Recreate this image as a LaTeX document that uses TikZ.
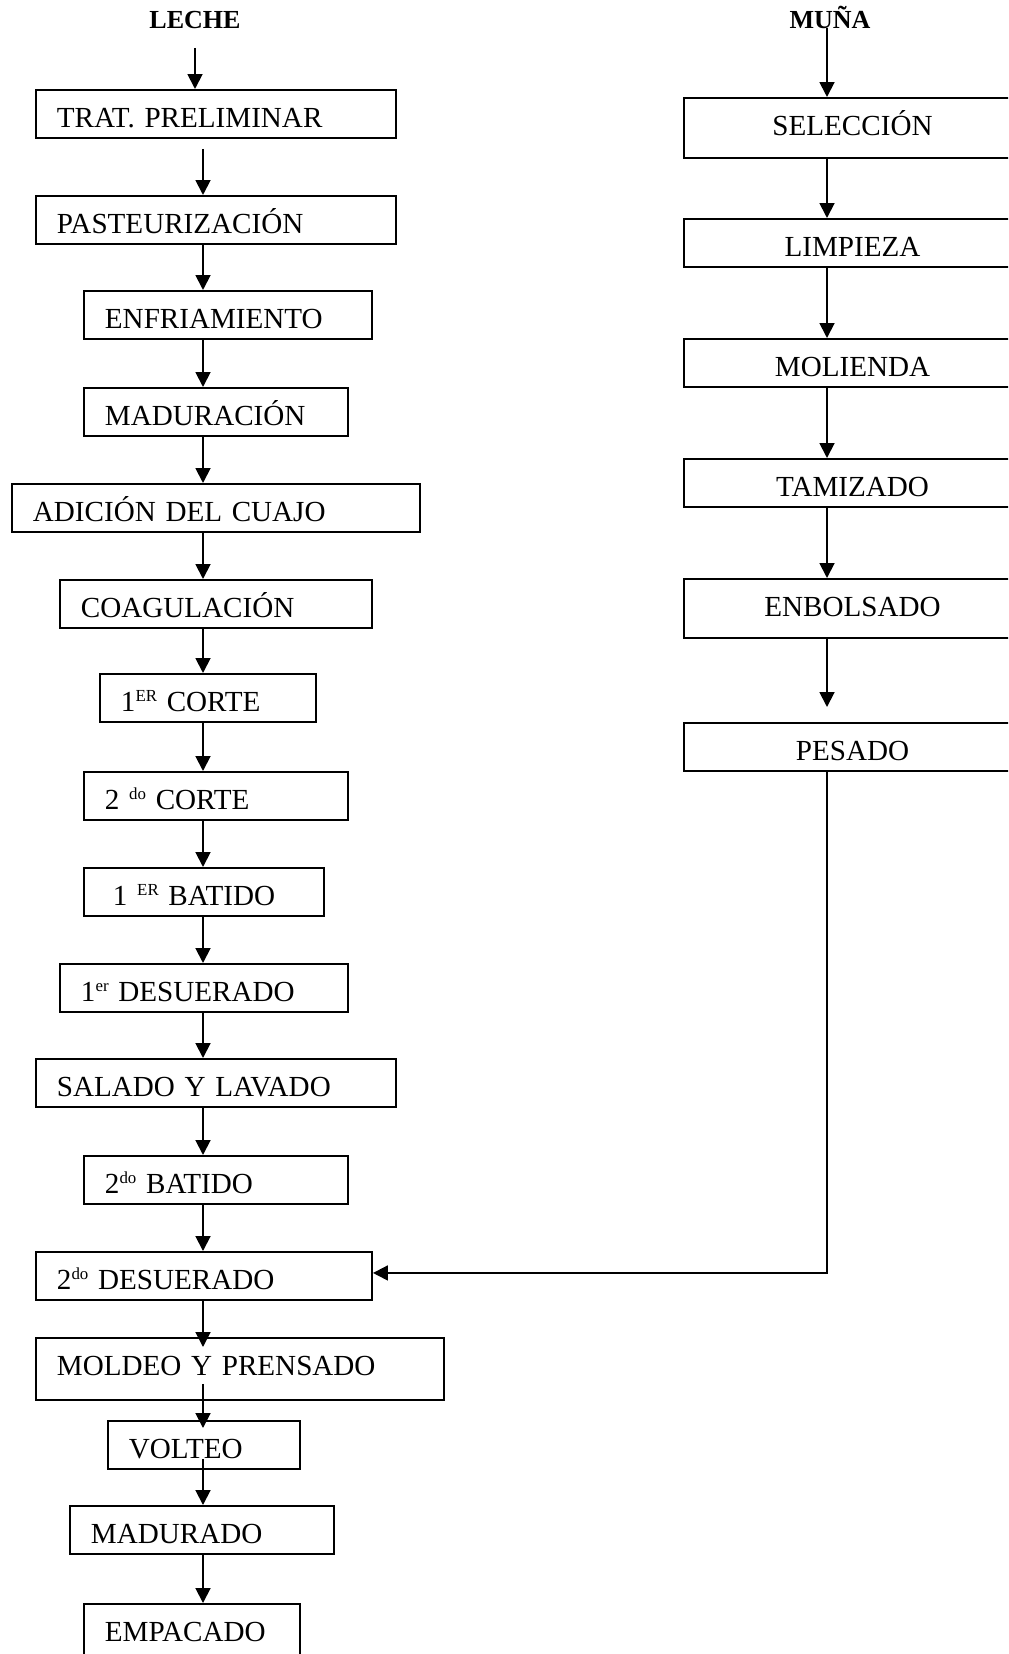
\documentclass[tikz,border=0pt]{standalone}
\usepackage{fontspec}
\setmainfont{Liberation Serif}
\usetikzlibrary{arrows.meta,positioning,calc}
\newcommand{\stepsup}[1]{\raisebox{0.25cm}{\fontsize{12}{14}\selectfont #1}}
\tikzset{
  stepbox/.style={draw=black,line width=1.35pt,anchor=north west,
    inner xsep=0.525cm,inner ysep=0pt,text height=0.95cm,text depth=0.25cm,
    align=left,font=\fontsize{20.7}{24}\selectfont},
  rawbox/.style={stepbox,align=center,text width=7.375cm},
  headtext/.style={anchor=base,inner sep=0pt,
    font=\fontsize{18.5}{22}\selectfont\bfseries},
  flowarrow/.style={-{Triangle[length=0.37cm,width=0.37cm]},line width=1.35pt},
}

\begin{document}
\begin{tikzpicture}[x=0.025cm,y=-0.025cm]
  \useasboundingbox (0,0) rectangle (1008,1654);
  \clip (0,0) rectangle (1008,1654);
  % titles
  \node[headtext] (leche) at (195,29) {LECHE};
  \node[headtext] (muna) at (830,29) {MUÑA};
  \coordinate (axis) at (203,0);
  \coordinate (raxis) at (827,0);
  % milk line
  \node[stepbox,text width=7.95cm] (trat) at (35,89) {TRAT. PRELIMINAR};
  \node[stepbox,text width=7.95cm] (past) at (35,195) {PASTEURIZACIÓN};
  \node[stepbox,text width=6.15cm] (enfr) at (83,290) {ENFRIAMIENTO};
  \node[stepbox,text width=5.55cm] (madur) at (83,387) {MADURACIÓN};
  \node[stepbox,text width=9.15cm] (cuajo) at (11,483) {ADICIÓN DEL CUAJO};
  \node[stepbox,text width=6.75cm] (coag) at (59,579) {COAGULACIÓN};
  \node[stepbox,text width=4.35cm] (corte1) at (99,673) {1\stepsup{ER }CORTE};
  \node[stepbox,text width=5.55cm] (corte2) at (83,771) {2 \stepsup{do} CORTE};
  \node[stepbox,text width=4.95cm] (batido1) at (83,867) {\hspace*{0.2cm}1 \stepsup{ER }BATIDO};
  \node[stepbox,text width=6.15cm] (desu1) at (59,963) {1\stepsup{er }DESUERADO};
  \node[stepbox,text width=7.95cm] (salado) at (35,1058) {SALADO Y LAVADO};
  \node[stepbox,text width=5.55cm] (batido2) at (83,1155) {2\stepsup{do} BATIDO};
  \node[stepbox,text width=7.35cm] (desu2) at (35,1251) {2\stepsup{do }DESUERADO};
  \node[stepbox,text width=9.15cm,text depth=0.6cm] (moldeo) at (35,1337) {MOLDEO Y PRENSADO};
  \node[stepbox,text width=3.75cm] (volteo) at (107,1420) {VOLTEO};
  \node[stepbox,text width=5.55cm] (madurado) at (69,1505) {MADURADO};
  \node[stepbox,text width=4.35cm,text depth=0.6cm] (empacado) at (83,1603) {EMPACADO};
  % muña line
  \node[rawbox,text depth=0.55cm] (selec) at (683,97) {SELECCIÓN};
  \node[rawbox] (limp) at (683,218) {LIMPIEZA};
  \node[rawbox] (mol) at (683,338) {MOLIENDA};
  \node[rawbox] (tam) at (683,458) {TAMIZADO};
  \node[rawbox,text depth=0.525cm] (enbol) at (683,578) {ENBOLSADO};
  \node[rawbox] (pesado) at (683,722) {PESADO};
  % arrows
  \draw[flowarrow] (leche.base) ++(0,19) -- (leche.base |- trat.north);
  \draw[flowarrow] ($(axis |- trat.south)+(0,10)$) -- (axis |- past.north);
  \foreach \a/\b in {past/enfr,enfr/madur,madur/cuajo,cuajo/coag,coag/corte1,
      corte1/corte2,corte2/batido1,batido1/desu1,desu1/salado,salado/batido2,
      batido2/desu2,madurado/empacado}
    \draw[flowarrow] (axis |- \a.south) -- (axis |- \b.north);
  \draw[flowarrow] (axis |- desu2.south) -- ($(axis |- moldeo.north)+(0,10)$);
  \draw[flowarrow] ($(axis |- moldeo.south)+(0,-17)$) -- ($(axis |- volteo.north)+(0,8)$);
  \draw[flowarrow] ($(axis |- volteo.south)+(0,-11)$) -- (axis |- madurado.north);
  \draw[flowarrow] (muna.base) ++(-3,-1) -- (raxis |- selec.north);
  \foreach \a/\b in {selec/limp,limp/mol,mol/tam,tam/enbol}
    \draw[flowarrow] (raxis |- \a.south) -- (raxis |- \b.north);
  \draw[flowarrow] (raxis |- enbol.south) -- ($(raxis |- pesado.north)+(0,-15)$);
  \draw[flowarrow] (raxis |- pesado.south) |- ($(desu2.east)+(0,-3)$);
\end{tikzpicture}
\end{document}
